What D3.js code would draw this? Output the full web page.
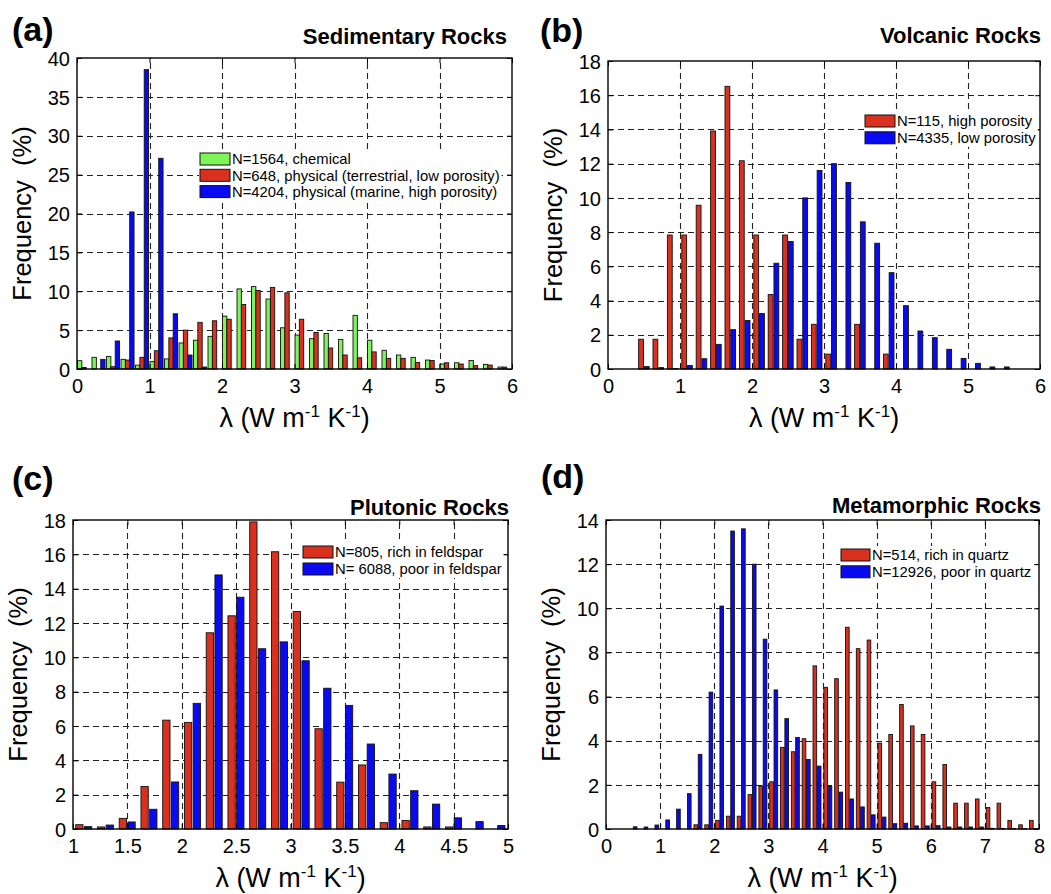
<!DOCTYPE html>
<html><head><meta charset="utf-8">
<script src="https://cdn.jsdelivr.net/npm/d3@7"></script>
<style>
body{margin:0;background:#fff}
text{font-family:"Liberation Sans",Arial,Helvetica,sans-serif;fill:#000}
</style>
</head><body>
<svg id="chart" width="1051" height="894"></svg>
<script>
// ---------- DATA ----------
// (a) Sedimentary rocks: bin starts (0.2 wide) and frequencies (%)
const binsA = [0,0.2,0.4,0.6,0.8,1.0,1.2,1.4,1.6,1.8,2.0,2.2,2.4,2.6,2.8,3.0,3.2,3.4,3.6,3.8,4.0,4.2,4.4,4.6,4.8,5.0,5.2,5.4,5.6,5.8];
const chemicalA = [1.07,1.5,1.6,1.24,0.5,0.95,1.3,3.35,3.7,4.2,6.8,10.3,10.6,9.0,5.3,4.36,3.9,4.57,3.8,6.9,3.7,2.4,1.8,1.5,1.15,0.64,0.8,1.1,0.6,0.25];
const terrestrialA = [0.2,0,0.3,1.15,1.5,2.35,4.0,5.0,6.0,6.2,6.4,8.3,10.1,10.5,9.8,6.4,4.7,2.7,1.8,1.45,2.2,1.37,1.37,0.85,1.1,0.8,0.64,0.43,0.5,0.25];
const marineA = [0,1.24,3.6,20.2,38.5,27.1,7.1,1.8,0.25,0,0,0,0,0,0,0,0,0,0,0,0,0,0,0,0,0,0,0,0,0];
const xTicksA = [0,1,2,3,4,5,6];
const yTicksA = [0,5,10,15,20,25,30,35,40];

// (b) Volcanic rocks
const binsB = [0,0.2,0.4,0.6,0.8,1.0,1.2,1.4,1.6,1.8,2.0,2.2,2.4,2.6,2.8,3.0,3.2,3.4,3.6,3.8,4.0,4.2,4.4,4.6,4.8,5.0,5.2,5.4,5.6,5.8];
const highPorB = [0,0,1.74,1.74,7.83,7.83,9.57,13.91,16.52,12.17,7.83,4.35,7.83,1.74,2.61,0.87,0,2.61,0,0.87,0,0,0,0,0,0,0,0,0,0];
const lowPorB = [0,0,0.14,0.08,0.02,0.2,0.6,1.44,2.3,2.83,3.24,6.18,7.45,10.0,11.6,12.0,10.9,8.6,7.35,5.63,3.7,2.22,1.83,1.15,0.62,0.33,0.12,0.12,0,0];
const xTicksB = [0,1,2,3,4,5,6];
const yTicksB = [0,2,4,6,8,10,12,14,16,18];

// (c) Plutonic rocks
const binsC = [1.0,1.2,1.4,1.6,1.8,2.0,2.2,2.4,2.6,2.8,3.0,3.2,3.4,3.6,3.8,4.0,4.2,4.4,4.6,4.8];
const richFeldC = [0.25,0.12,0.62,2.48,6.34,6.21,11.43,12.42,17.89,16.15,12.67,5.84,2.73,3.73,0.37,0.5,0.12,0.12,0,0];
const poorFeldC = [0.14,0.23,0.41,1.15,2.74,7.32,14.8,13.5,10.5,10.9,9.8,8.2,7.2,4.95,3.2,2.23,1.45,0.65,0.43,0.2];
const xTicksC = [1,1.5,2,2.5,3,3.5,4,4.5,5];
const yTicksC = [0,2,4,6,8,10,12,14,16,18];

// (d) Metamorphic rocks
const binsD = [0,0.2,0.4,0.6,0.8,1.0,1.2,1.4,1.6,1.8,2.0,2.2,2.4,2.6,2.8,3.0,3.2,3.4,3.6,3.8,4.0,4.2,4.4,4.6,4.8,5.0,5.2,5.4,5.6,5.8,6.0,6.2,6.4,6.6,6.8,7.0,7.2,7.4,7.6,7.8];
const richQzD = [0,0,0,0,0,0,0,0,0.19,0.19,0.39,0.58,0.58,1.56,1.95,2.14,3.70,3.50,4.09,7.39,6.42,6.81,9.14,8.17,8.56,3.89,4.28,5.64,4.67,4.28,2.14,2.92,1.17,1.17,1.36,0.97,1.17,0.39,0.19,0.39];
const poorQzD = [0,0,0.1,0.09,0.18,0.41,0.9,1.6,3.38,6.2,10.1,13.5,13.6,12.0,8.6,6.3,5.0,4.15,3.15,2.85,1.93,1.67,1.36,1.0,0.64,0.54,0.24,0.26,0.14,0.14,0.15,0.09,0.09,0.09,0.09,0.03,0.02,0.02,0.01,0.01];
const xTicksD = [0,1,2,3,4,5,6,7,8];
const yTicksD = [0,2,4,6,8,10,12,14];

const GREEN = "#7df559", RED = "#d9301f", BLUE = "#0a0af2";

// ---------- LAYOUT ----------
const panels = [
  {letter:"(a)", title:"Sedimentary Rocks", bins:binsA,
   series:[{v:chemicalA,c:GREEN,name:"N=1564, chemical"},
           {v:terrestrialA,c:RED,name:"N=648, physical (terrestrial, low porosity)"},
           {v:marineA,c:BLUE,name:"N=4204, physical (marine, high porosity)"}],
   xd:[0,6], yd:[0,40], xt:xTicksA, yt:yTicksA,
   box:{l:77,t:58,r:512,b:369}, letterPos:[12,41], titlePos:[507,44],
   leg:{x:200,y:153,dy:16.3,pw:30,ph:12}},
  {letter:"(b)", title:"Volcanic Rocks", bins:binsB,
   series:[{v:highPorB,c:RED,name:"N=115, high porosity"},
           {v:lowPorB,c:BLUE,name:"N=4335, low porosity"}],
   xd:[0,6], yd:[0,18], xt:xTicksB, yt:yTicksB,
   box:{l:608,t:61,r:1040,b:369}, letterPos:[540,42], titlePos:[1041,43],
   leg:{x:865,y:115,dy:16.8,pw:30,ph:12}},
  {letter:"(c)", title:"Plutonic Rocks", bins:binsC,
   series:[{v:richFeldC,c:RED,name:"N=805, rich in feldspar"},
           {v:poorFeldC,c:BLUE,name:"N= 6088, poor in feldspar"}],
   xd:[1,5], yd:[0,18], xt:xTicksC, yt:yTicksC,
   box:{l:73,t:520,r:508,b:829}, letterPos:[12,490], titlePos:[509,515],
   leg:{x:303,y:546,dy:17,pw:30,ph:12}},
  {letter:"(d)", title:"Metamorphic Rocks", bins:binsD,
   series:[{v:richQzD,c:RED,name:"N=514, rich in quartz"},
           {v:poorQzD,c:BLUE,name:"N=12926, poor in quartz"}],
   xd:[0,8], yd:[0,14], xt:xTicksD, yt:yTicksD,
   box:{l:606,t:520,r:1039,b:829}, letterPos:[541,488], titlePos:[1041,513],
   leg:{x:841,y:549,dy:16.8,pw:29,ph:12}}
];

const svg = d3.select("#chart");
svg.append("rect").attr("width",1051).attr("height",894).attr("fill","#fff");

panels.forEach(p => {
  const b = p.box;
  const x = d3.scaleLinear().domain(p.xd).range([b.l, b.r]);
  const y = d3.scaleLinear().domain(p.yd).range([b.b, b.t]);
  const g = svg.append("g");

  // grid (dashed)
  const grid = g.append("g").attr("stroke","#222").attr("stroke-width",1.1).attr("stroke-dasharray","6,4");
  p.xt.filter(v => v > p.xd[0] && v < p.xd[1]).forEach(v => {
    grid.append("line").attr("x1",Math.round(x(v))+0.5).attr("x2",Math.round(x(v))+0.5)
      .attr("y1",b.b).attr("y2",b.t);
  });
  p.yt.filter(v => v > p.yd[0] && v < p.yd[1]).forEach(v => {
    grid.append("line").attr("y1",Math.round(y(v))+0.5).attr("y2",Math.round(y(v))+0.5)
      .attr("x1",b.l).attr("x2",b.r);
  });

  // bars
  const n = p.series.length;
  const offs = n === 3 ? [0.007,0.067,0.127] : [0.025,0.105];
  const bw = n === 3 ? 0.06 : 0.067;
  p.series.forEach((s,i) => {
    g.append("g").selectAll("rect").data(p.bins.map((bin,k)=>({bin, val:s.v[k]})).filter(d=>d.val>0))
      .enter().append("rect")
      .attr("x", d => x(d.bin + offs[i]))
      .attr("width", d => x(d.bin + offs[i] + bw) - x(d.bin + offs[i]))
      .attr("y", d => y(d.val))
      .attr("height", d => y(0) - y(d.val))
      .attr("fill", s.c).attr("stroke","#111").attr("stroke-width",0.9);
  });

  // axes via d3 axis (inward ticks)
  const tl = 5;
  const ax = g.append("g").attr("transform",`translate(0,${b.b})`)
    .call(d3.axisBottom(x).tickValues(p.xt).tickSize(-tl).tickPadding(7).tickFormat(d=>String(d)));
  const axT = g.append("g").attr("transform",`translate(0,${b.t})`)
    .call(d3.axisTop(x).tickValues(p.xt).tickSize(-tl).tickFormat(""));
  const ay = g.append("g").attr("transform",`translate(${b.l},0)`)
    .call(d3.axisLeft(y).tickValues(p.yt).tickSize(-tl).tickPadding(7).tickFormat(d=>String(d)));
  const ayR = g.append("g").attr("transform",`translate(${b.r},0)`)
    .call(d3.axisRight(y).tickValues(p.yt).tickSize(-tl).tickFormat(""));
  [ax,axT,ay,ayR].forEach(a => {
    a.select(".domain").remove();
    a.selectAll(".tick line").attr("stroke","#000").attr("stroke-width",1);
    a.selectAll("text").style("font-size","20px").attr("fill","#000");
  });
  ax.selectAll(".tick text").attr("dy","0.85em");
  ay.selectAll(".tick text").attr("dy","0.36em");

  // box
  g.append("rect").attr("x",b.l).attr("y",b.t).attr("width",b.r-b.l).attr("height",b.b-b.t)
    .attr("fill","none").attr("stroke","#000").attr("stroke-width",1.4);

  // legend
  const L = p.leg;
  const lg = g.append("g");
  const bg = lg.append("rect").attr("fill","#fff");
  let maxX = 0;
  p.series.forEach((s,i) => {
    lg.append("rect").attr("x",L.x).attr("y",L.y + i*L.dy).attr("width",L.pw).attr("height",L.ph)
      .attr("fill",s.c).attr("stroke","#111").attr("stroke-width",1);
    const t = lg.append("text").attr("x",L.x+L.pw+2).attr("y",L.y + i*L.dy + L.ph/2).attr("dy","0.36em")
      .style("font-size","14.8px").text(s.name);
    maxX = Math.max(maxX, L.x+L.pw+2+t.node().getComputedTextLength());
  });
  bg.attr("x",L.x-1).attr("y",L.y-3).attr("width",maxX-L.x+3).attr("height",(n-1)*L.dy+L.ph+6);

  // titles
  g.append("text").attr("x",p.letterPos[0]).attr("y",p.letterPos[1])
    .style("font-size","34px").style("font-weight","bold").text(p.letter);
  g.append("text").attr("x",p.titlePos[0]).attr("y",p.titlePos[1]).attr("text-anchor","end")
    .style("font-size","22px").style("font-weight","bold").text(p.title);

  // y label
  g.append("text").attr("transform",`translate(${b.l-46},${(b.t+b.b)/2}) rotate(-90)`)
    .attr("text-anchor","middle").style("font-size","25.5px").text("Frequency\u00a0\u00a0(%)");

  // x label with superscripts
  const xl = g.append("text").attr("x",(b.l+b.r)/2).attr("y",b.b+58).attr("text-anchor","middle")
    .style("font-size","27px");
  xl.append("tspan").text("\u03bb (W m");
  xl.append("tspan").attr("dy",-10).style("font-size","17px").text("-1");
  xl.append("tspan").attr("dy",10).text(" K");
  xl.append("tspan").attr("dy",-10).style("font-size","17px").text("-1");
  xl.append("tspan").attr("dy",10).text(")");
});
</script>
</body></html>
